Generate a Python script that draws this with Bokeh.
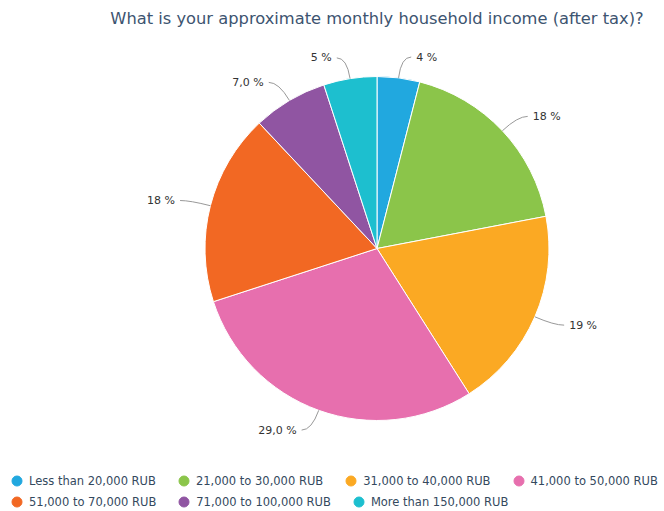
import math
from bokeh.plotting import figure
from bokeh.models import Range1d, ColumnDataSource, Legend, LegendItem
from bokeh.core.properties import value
from bokeh.embed import file_html
from bokeh.resources import INLINE

categories = ["Less than 20,000 RUB", "21,000 to 30,000 RUB", "31,000 to 40,000 RUB",
              "41,000 to 50,000 RUB", "51,000 to 70,000 RUB", "71,000 to 100,000 RUB",
              "More than 150,000 RUB"]
shares = [4, 18, 19, 29, 18, 7, 5]
labels = ["4 %", "18 %", "19 %", "29,0 %", "18 %", "7,0 %", "5 %"]
colors = ["#21a8df", "#8bc54a", "#fba923", "#e76fae", "#f26823", "#9055a2", "#1dbfcf"]
title = "What is your approximate monthly household income (after tax)?"

W, H = 664, 508
CX, CY, R = 376.5, H - 248, 172
FONT = "DejaVu Sans"

p = figure(width=W, height=H, output_backend="svg", toolbar_location=None,
           x_range=Range1d(0, W), y_range=Range1d(0, H),
           min_border=0, outline_line_color=None)
p.axis.visible = False
p.grid.visible = False

total = sum(shares)
starts, ends, mids = [], [], []
acc = 0.0
for s in shares:
    a0 = acc / total * 2 * math.pi
    acc += s
    a1 = acc / total * 2 * math.pi
    starts.append(math.pi / 2 - a0)
    ends.append(math.pi / 2 - a1)
    mids.append((a0 + a1) / 2)

src = ColumnDataSource(dict(start=starts, end=ends, color=colors, cat=categories))
p.wedge(x=CX, y=CY, radius=R, start_angle="start", end_angle="end", direction="clock",
        fill_color="color", line_color="white", line_width=1, source=src)

# leader lines and labels
x0s, y0s, cxs, cys, x1s, y1s, tx, ty, ta = [], [], [], [], [], [], [], [], []
for m in mids:
    sx, sy = math.sin(m), math.cos(m)
    rx, ry = CX + R * sx, CY + R * sy
    ex, ey = CX + (R + 21) * sx, CY + (R + 21) * sy
    side = 1 if sx >= 0 else -1
    endx = ex + side * 10
    x0s.append(rx); y0s.append(ry)
    cxs.append(ex); cys.append(ey)
    x1s.append(endx); y1s.append(ey)
    tx.append(endx + side * 5); ty.append(ey)
    ta.append("left" if side > 0 else "right")

p.quadratic(x0=x0s, y0=y0s, x1=x1s, y1=y1s, cx=cxs, cy=cys, line_color="#999999", line_width=1)
p.text(x=tx, y=ty, text=labels, text_align=ta, text_baseline="middle",
       text_font=value(FONT), text_font_size="11px", text_color="#333333")

# title
p.text(x=[CX], y=[H - 18], text=[title], text_align="center", text_baseline="middle",
       text_font=value(FONT), text_font_size="16.3px", text_color="#3d5470")

# legend (two flow rows)
dots = []
for c, cat in zip(colors, categories):
    r = p.scatter(x=[math.nan], y=[math.nan], marker="circle", size=10, fill_color=c, line_color=c)
    dots.append(r)

G = 25
def make_legend(idx, row_center_page_y):
    lg = Legend(items=[LegendItem(label=categories[i], renderers=[dots[i]]) for i in idx],
                orientation="horizontal", location=(4, H - row_center_page_y - G / 2),
                background_fill_alpha=0, border_line_color=None,
                label_text_font=FONT, label_text_font_size="11.5px", label_text_color="#34495e",
                glyph_width=G, glyph_height=G, label_standoff=0, spacing=15,
                padding=0, margin=0, label_height=14)
    p.add_layout(lg)

make_legend([0, 1, 2, 3], 480.7)
make_legend([4, 5, 6], 501.7)

open("out.html", "w").write(file_html(p, INLINE))
